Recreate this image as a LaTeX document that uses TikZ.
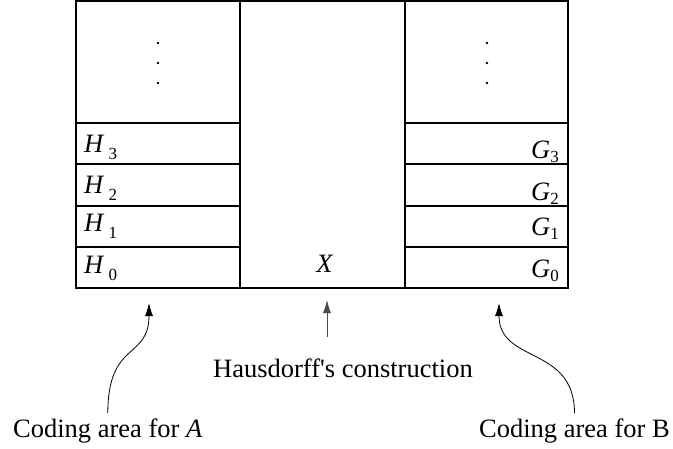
\documentclass[tikz,border=0pt]{standalone}
\usepackage{fontspec}
\setmainfont{Liberation Serif}[Ligatures=TeXOff]
\usetikzlibrary{arrows.meta}
\newcommand{\Hsub}[2]{\textit{#1}\hspace{4pt}\raisebox{-7pt}{\fontsize{17}{19}\selectfont #2}}
\newcommand{\Gsub}[2]{\textit{#1}\raisebox{-4pt}{\fontsize{17}{19}\selectfont #2}}
\begin{document}
\begin{tikzpicture}[x=1pt,y=-1pt,
  cell/.style={draw, line width=1.1pt, minimum width=164pt, inner sep=0pt, outer sep=0pt},
  lbl/.style={font=\fontsize{26.5}{30}\selectfont, inner sep=0pt},
  conn/.style={line width=0.8pt, -{Latex[length=13pt,width=8pt]}},
  dot/.style={fill=black}]
\useasboundingbox (0,0) rectangle (673,448);
% left column
\node[cell, minimum height=122pt] (ltop) at (158,62) {};
\node[cell, minimum height=41pt] (h3) at (158,143.5) {};
\node[cell, minimum height=42pt] (h2) at (158,185) {};
\node[cell, minimum height=41pt] (h1) at (158,226.5) {};
\node[cell, minimum height=41pt] (h0) at (158,267.5) {};
% middle column
\node[cell, minimum width=165pt, minimum height=287pt] (mid) at (322.5,144.5) {};
% right column
\node[cell, minimum width=163pt, minimum height=122pt] (rtop) at (486.5,62) {};
\node[cell, minimum width=163pt, minimum height=41pt] (g3) at (486.5,143.5) {};
\node[cell, minimum width=163pt, minimum height=42pt] (g2) at (486.5,185) {};
\node[cell, minimum width=163pt, minimum height=41pt] (g1) at (486.5,226.5) {};
\node[cell, minimum width=163pt, minimum height=41pt] (g0) at (486.5,267.5) {};
% dots
\fill[dot] (158,43) circle (1.4) (158,63) circle (1.4) (158,83) circle (1.4);
\fill[dot] (487,43) circle (1.4) (487,63) circle (1.4) (487,83) circle (1.4);
% labels
\node[lbl, anchor=base west] (lh3) at (84,152) {\Hsub{H}{3}};
\node[lbl, anchor=base west] (lh2) at (84,193) {\Hsub{H}{2}};
\node[lbl, anchor=base west] (lh1) at (84,231) {\Hsub{H}{1}};
\node[lbl, anchor=base west] (lh0) at (84,273) {\Hsub{H}{0}};
\node[lbl, anchor=base east] (lg3) at (559,158) {\Gsub{G}{3}};
\node[lbl, anchor=base east] (lg2) at (559,200) {\Gsub{G}{2}};
\node[lbl, anchor=base east] (lg1) at (559,235) {\Gsub{G}{1}};
\node[lbl, anchor=base east] (lg0) at (559,277) {\Gsub{G}{0}};
\node[lbl, anchor=base] (lx) at (325,272) {\textit{X}};
% captions
\node[lbl, anchor=base west] (codeA) at (13,437) {Coding area for \textit{A}};
\node[lbl, anchor=base east] (codeB) at (670,437) {Coding area for B};
\node[lbl, anchor=base] (haus) at (343,377) {Hausdorff's construction};
% connectors
\coordinate (ta) at ([yshift=5pt]codeA.north);
\coordinate (ha) at ([xshift=-9pt,yshift=-15pt]h0.south);
\coordinate (tb) at ([yshift=5pt]codeB.north);
\coordinate (hb) at ([xshift=12.5pt,yshift=-15pt]g0.south);
\coordinate (tm) at ([xshift=4.5pt,yshift=-49pt]mid.south);
\coordinate (hm) at ([xshift=4.5pt,yshift=-12pt]mid.south);
\draw[conn] (ta) .. controls +(0,-73) and +(0,57) .. (ha);
\draw[conn] (tb) .. controls +(0,-68) and +(0,61) .. (hb);
\draw[conn, draw=black!70] (tm) -- (hm);
\end{tikzpicture}
\end{document}
